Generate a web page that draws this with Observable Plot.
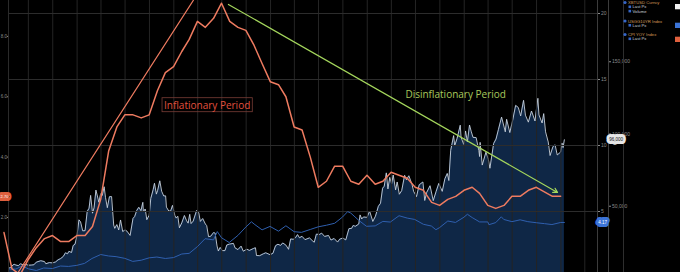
<!DOCTYPE html>
<html><head><meta charset="utf-8">
<script src="https://cdn.jsdelivr.net/npm/d3@7"></script>
<script src="https://cdn.jsdelivr.net/npm/@observablehq/plot@0.6"></script>
<style>
html,body{margin:0;padding:0;background:#000;}
#chart{position:relative;width:680px;height:272px;background:#000;overflow:hidden;}
#chart svg{position:absolute;left:0;top:0;}
</style></head>
<body><div id="chart"></div>
<script>
// ---------- data ----------
const btcDates = ["2020-04-17","2020-04-24","2020-04-30","2020-05-08","2020-05-15","2020-05-25","2020-06-01","2020-06-12","2020-06-22","2020-07-01","2020-07-12","2020-07-22","2020-07-31","2020-08-10","2020-08-17","2020-08-31","2020-09-05","2020-09-18","2020-09-30","2020-10-12","2020-10-21","2020-10-31","2020-11-10","2020-11-18","2020-11-26","2020-12-01","2020-12-11","2020-12-17","2020-12-24","2020-12-31",
"2021-01-08","2021-01-14","2021-01-22","2021-01-31","2021-02-08","2021-02-15","2021-02-21","2021-02-28","2021-03-06","2021-03-13","2021-03-24","2021-03-31","2021-04-06","2021-04-13","2021-04-18","2021-04-25","2021-05-03","2021-05-11","2021-05-19","2021-05-23","2021-05-31","2021-06-07","2021-06-14","2021-06-22","2021-07-01","2021-07-08","2021-07-20","2021-07-31","2021-08-06","2021-08-14","2021-08-22","2021-08-30","2021-09-06","2021-09-08","2021-09-15","2021-09-21","2021-09-30","2021-10-06","2021-10-15","2021-10-20","2021-10-27","2021-11-01","2021-11-09","2021-11-16","2021-11-24","2021-12-01","2021-12-04","2021-12-13","2021-12-20","2021-12-27",
"2022-01-05","2022-01-10","2022-01-16","2022-01-22","2022-01-31","2022-02-10","2022-02-18","2022-02-24","2022-03-02","2022-03-07","2022-03-15","2022-03-28","2022-04-05","2022-04-11","2022-04-20","2022-04-30","2022-05-05","2022-05-12","2022-05-20","2022-05-31","2022-06-06","2022-06-13","2022-06-18","2022-06-25","2022-07-03","2022-07-13","2022-07-20","2022-07-30","2022-08-14","2022-08-20","2022-08-31","2022-09-12","2022-09-20","2022-10-04","2022-10-13","2022-10-29","2022-11-05","2022-11-09","2022-11-21","2022-12-05","2022-12-14","2022-12-30",
"2023-01-10","2023-01-20","2023-01-29","2023-02-08","2023-02-16","2023-02-28","2023-03-10","2023-03-18","2023-03-28","2023-04-05","2023-04-13","2023-04-20","2023-04-30","2023-05-11","2023-05-28","2023-06-10","2023-06-15","2023-06-23","2023-07-05","2023-07-13","2023-07-24","2023-08-08","2023-08-17","2023-08-29","2023-09-11","2023-09-19","2023-10-01","2023-10-12","2023-10-24","2023-11-03","2023-11-09","2023-11-17","2023-11-30","2023-12-05","2023-12-11","2023-12-18","2023-12-31",
"2024-01-10","2024-01-22","2024-02-01","2024-02-12","2024-02-20","2024-02-28","2024-03-05","2024-03-13","2024-03-19","2024-03-26","2024-04-02","2024-04-08","2024-04-17","2024-04-23","2024-05-01","2024-05-10","2024-05-21","2024-05-28","2024-06-06","2024-06-18","2024-06-24","2024-07-05","2024-07-15","2024-07-29","2024-08-05","2024-08-12","2024-08-25","2024-09-06","2024-09-17","2024-09-27","2024-10-10","2024-10-20","2024-10-29","2024-11-04","2024-11-11","2024-11-22","2024-11-26","2024-12-05","2024-12-17","2024-12-20","2024-12-30",
"2025-01-06","2025-01-13","2025-01-21","2025-01-27","2025-02-03","2025-02-15","2025-02-25","2025-02-28","2025-03-02","2025-03-10","2025-03-24","2025-04-02","2025-04-08","2025-04-22","2025-05-01","2025-05-10","2025-05-22","2025-06-05","2025-06-10","2025-06-22","2025-07-03","2025-07-14","2025-07-24","2025-08-02","2025-08-13","2025-08-20","2025-08-31","2025-09-12","2025-09-25","2025-10-06","2025-10-10","2025-10-22","2025-10-28","2025-11-04","2025-11-14","2025-11-21","2025-12-02","2025-12-10","2025-12-18","2025-12-31","2026-01-05","2026-01-09","2026-01-14"];
const btcPrices = [7100,7500,8600,9900,9300,8900,10200,9400,9700,9200,9300,9500,11300,11900,12300,11700,10200,11000,10800,11500,12900,13800,15300,17800,17100,18800,18000,22800,23700,29000,
40600,39200,33000,33100,46400,48600,57500,45200,48900,61200,52800,58800,57500,63500,56200,49000,56600,56700,37000,34700,37300,33600,40500,32500,33600,32800,29800,41600,42800,47100,49300,46900,52700,46100,48100,40700,43800,55400,61500,65900,58400,61000,67600,60400,57100,57200,49400,46700,46700,50600,
43500,41800,43100,35100,38500,43600,40000,38300,44400,38000,39700,47100,45500,39500,41500,37700,36600,29000,29200,31800,31400,22500,19000,21500,19300,19300,23200,23800,24300,21200,20000,22400,18900,20300,19400,20800,21300,15900,15800,17100,17800,16500,
17400,22700,23700,22900,24600,23100,20200,27400,27100,28200,30400,28200,29200,26900,28100,25800,25100,30700,30500,31400,29100,29800,26600,27700,25200,27200,28000,26700,34500,34700,36700,36100,37700,44000,41200,42600,42300,
46600,39500,43100,50000,52000,62500,63800,73100,62000,70000,65500,71600,61300,66800,58300,60800,71400,68300,71100,65100,60300,56700,64800,66800,54000,59400,64200,53900,60300,65800,60300,69000,72700,67800,88700,98900,91900,96900,106100,97800,92800,
102100,94500,106200,102000,97700,97500,88700,84400,94200,78500,87400,82500,76300,93400,96500,103000,111700,101500,110200,101000,109600,119800,118400,112500,123300,113000,108200,115900,109000,124700,113200,107600,114100,101500,94500,85100,91300,92500,85500,87500,93800,90600,96000];

const ust10Dates = ["2020-04-17","2020-05-15","2020-06-08","2020-06-30","2020-07-31","2020-08-28","2020-09-30","2020-10-30","2020-11-30","2020-12-31","2021-01-29","2021-02-26","2021-03-31","2021-04-30","2021-05-28","2021-06-30","2021-07-30","2021-08-31","2021-09-30","2021-10-29","2021-11-30","2021-12-31","2022-01-31","2022-02-28","2022-03-31","2022-04-29","2022-05-31","2022-06-14","2022-06-30","2022-07-29","2022-08-31","2022-09-30","2022-10-21","2022-10-31","2022-11-30","2022-12-30","2023-01-31","2023-02-28","2023-03-31","2023-04-28","2023-05-31","2023-06-30","2023-07-31","2023-08-31","2023-09-29","2023-10-19","2023-10-31","2023-11-30","2023-12-29","2024-01-31","2024-02-29","2024-03-28","2024-04-30","2024-05-31","2024-06-28","2024-07-31","2024-08-30","2024-09-16","2024-09-30","2024-10-31","2024-11-29","2024-12-31","2025-01-13","2025-01-31","2025-02-28","2025-03-31","2025-04-04","2025-04-30","2025-05-21","2025-05-30","2025-06-30","2025-07-31","2025-08-29","2025-09-30","2025-10-31","2025-11-28","2025-12-31","2026-01-14"];
const ust10Yields = [0.64,0.64,0.88,0.66,0.53,0.72,0.68,0.87,0.84,0.92,1.07,1.44,1.74,1.63,1.58,1.45,1.22,1.31,1.49,1.55,1.44,1.51,1.78,1.83,2.34,2.94,2.85,3.48,3.01,2.65,3.19,3.83,4.22,4.05,3.61,3.87,3.51,3.92,3.47,3.42,3.64,3.84,3.96,4.11,4.57,4.99,4.88,4.33,3.88,3.91,4.25,4.20,4.68,4.50,4.40,4.03,3.90,3.62,3.78,4.28,4.17,4.57,4.79,4.54,4.21,4.21,4.00,4.16,4.60,4.40,4.23,4.37,4.23,4.15,4.08,4.01,4.17,4.17];

const cpiMonths = ["2020-03","2020-04","2020-05","2020-06","2020-07","2020-08","2020-09","2020-10","2020-11","2020-12",
"2021-01","2021-02","2021-03","2021-04","2021-05","2021-06","2021-07","2021-08","2021-09","2021-10","2021-11","2021-12",
"2022-01","2022-02","2022-03","2022-04","2022-05","2022-06","2022-07","2022-08","2022-09","2022-10","2022-11","2022-12",
"2023-01","2023-02","2023-03","2023-04","2023-05","2023-06","2023-07","2023-08","2023-09","2023-10","2023-11","2023-12",
"2024-01","2024-02","2024-03","2024-04","2024-05","2024-06","2024-07","2024-08","2024-09","2024-10","2024-11","2024-12",
"2025-01","2025-02","2025-03","2025-04","2025-05","2025-06","2025-07","2025-08","2025-09","2025-11","2025-12"];
const cpiYoY = [1.5,0.3,0.1,0.6,1.0,1.3,1.4,1.2,1.2,1.4,
1.4,1.7,2.6,4.2,5.0,5.4,5.4,5.3,5.4,6.2,6.8,7.0,
7.5,7.9,8.5,8.3,8.6,9.1,8.5,8.3,8.2,7.7,7.1,6.5,
6.4,6.0,5.0,4.9,4.0,3.0,3.2,3.7,3.7,3.2,3.1,3.4,
3.1,3.2,3.5,3.4,3.3,3.0,2.9,2.5,2.4,2.6,2.7,2.9,
3.0,2.8,2.4,2.3,2.4,2.7,2.7,2.9,3.0,2.7,2.7];

const rateTicks = [5, 10, 15, 20];
const btcTicks = [50000, 100000, 150000];
const cpiTicks = [2, 4, 6, 8];

// hand-drawn annotations (in CPI-axis units)
const trendDates = ["2020-05-25", "2022-03-16"];
const trendValues = [0.2, 9.2];
const arrowDates = ["2022-07-26", "2025-12-19"];
const arrowValues = [9.06, 2.83];
const noteTexts = ["Inflationary Period", "Disinflationary Period"];
const noteDates = ["2021-11-25", "2024-05-24"];
const noteValues = [5.71, 6.07];

const legendSeries = ["XBTUSD Curncy", "USGG10YR Index", "CPI YOY Index"];
const legendFields = [["Last Px", "Volume"], ["Last Px"], ["Last Px"]];

// ---------- build ----------
const P = d3.utcParse("%Y-%m-%d");
const btc = btcDates.map((d, i) => ({date: P(d), price: btcPrices[i]}));
const ust = ust10Dates.map((d, i) => ({date: P(d), yld: ust10Yields[i]}));
const cpi = cpiMonths.map((m, i) => ({date: d3.utcDay.offset(d3.utcMonth.offset(d3.utcParse("%Y-%m")(m), 1), -1), v: cpiYoY[i]}));
const trend = trendDates.map((d, i) => ({date: P(d), v: trendValues[i]}));
const arrow = [{d1: P(arrowDates[0]), v1: arrowValues[0], d2: P(arrowDates[1]), v2: arrowValues[1]}];
const notes = noteTexts.map((t, i) => ({text: t, date: P(noteDates[i]), v: noteValues[i]}));

const W = 680, H = 272;
const xDomain = [P("2020-04-17"), P("2026-05-19")];
const quarters = d3.utcMonth.every(3).range(xDomain[0], xDomain[1]);
const AX = "#8a8a8a";
const FONT = "'Liberation Sans', Arial, sans-serif";

function base(y, marks) {
  return {
    width: W, height: H, marginLeft: 8, marginRight: 83, marginTop: 0, marginBottom: 0,
    x: {type: "utc", domain: xDomain, axis: null},
    y: {...y, axis: null, label: null},
    style: {background: "transparent", color: AX, fontFamily: FONT, fontSize: "5px", overflow: "visible"},
    marks
  };
}

const chart = document.getElementById("chart");

// Layer 1: Bitcoin price (area) with its axis
const pBtc = Plot.plot(base({domain: [4152, 192388]}, [
  Plot.areaY(btc, {x: "date", y: "price", fill: "#0f2746"}),
  Plot.lineY(btc, {x: "date", y: "price", stroke: "#c8d2df", strokeWidth: 0.9}),
  Plot.axisY(btcTicks, {anchor: "right", dx: 11, tickSize: 2, tickPadding: 1.5, tickFormat: d3.format(","), color: AX, label: null}),
  Plot.frame({anchor: "right", dx: 11, stroke: "#3c3c3c"}),
  Plot.frame({anchor: "right", dx: 26, stroke: "#2e2e2e"}),
  Plot.text([btc[btc.length - 1]], {y: "price", frameAnchor: "right", dx: 18.5, textAnchor: "middle",
    text: d => d3.format(",")(d.price),
    fill: "#111", stroke: "#e6e6e6", strokeWidth: 6, paintOrder: "stroke", fontSize: 4.5})
]));
chart.appendChild(pBtc);

// Layer 2: US 10Y yield with grid and axis
const pUst = Plot.plot(base({domain: [0.379, 20.985]}, [
  Plot.gridX(quarters, {stroke: "#242424", strokeOpacity: 1}),
  Plot.gridY(rateTicks, {stroke: "#2c2c2c", strokeOpacity: 1}),
  Plot.lineY(ust, {x: "date", y: "yld", stroke: "#2f5fae", strokeWidth: 1}),
  Plot.axisY(rateTicks, {anchor: "right", tickSize: 2, tickPadding: 1.5, color: AX, label: null}),
  Plot.frame({anchor: "right", stroke: "#3c3c3c"}),
  Plot.frame({anchor: "left", stroke: "#2a2a2a"}),
  Plot.text([ust[ust.length - 1]], {y: "yld", frameAnchor: "right", dx: 5, textAnchor: "middle",
    text: d => d3.format(".2f")(d.yld),
    fill: "#fff", stroke: "#3b73d6", strokeWidth: 6, paintOrder: "stroke", fontSize: 4.5})
]));
chart.appendChild(pUst);

// Layer 3: CPI YoY with annotations
const pCpi = Plot.plot(base({domain: [0.176, 9.19]}, [
  Plot.line(trend, {x: "date", y: "v", stroke: "#ee7b60", strokeWidth: 1.2}),
  Plot.lineY(cpi, {x: "date", y: "v", stroke: "#ee7b60", strokeWidth: 1.5}),
  Plot.arrow(arrow, {x1: "d1", y1: "v1", x2: "d2", y2: "v2", stroke: "#a4d65c", strokeWidth: 1.2, headLength: 6}),
  Plot.text(notes.slice(0, 1), {x: "date", y: "v", text: "text", textAnchor: "start", fill: "#e2503e",
    fontSize: 10, fontFamily: "'Open Sans', sans-serif"}),
  Plot.text(notes.slice(1), {x: "date", y: "v", text: "text", textAnchor: "start", fill: "#a8c85c",
    fontSize: 10, fontFamily: "'Open Sans', sans-serif"}),
  Plot.axisY(cpiTicks, {anchor: "left", tickSize: 1, tickPadding: 0.5, tickFormat: d3.format(".1f"), color: AX, label: null, fontSize: 4.5}),
  Plot.text([cpi[cpi.length - 1]], {y: "v", frameAnchor: "left", dx: -4, textAnchor: "middle",
    text: d => d3.format(".2f")(d.v),
    fill: "#fff", stroke: "#e0603e", strokeWidth: 6, paintOrder: "stroke", fontSize: 4})
]));
chart.appendChild(pCpi);

// box around the "Inflationary Period" note (same transform as its text)
d3.select(pCpi).selectAll("text").filter(function () { return this.textContent === noteTexts[0]; }).each(function () {
  const b = this.getBBox();
  d3.select(this.parentNode).insert("rect", () => this)
    .attr("transform", this.getAttribute("transform"))
    .attr("x", b.x - 2).attr("y", b.y).attr("width", b.width + 4).attr("height", b.height)
    .attr("fill", "none").attr("stroke", "#7a3d36").attr("stroke-width", 0.8);
});

// Legend panel (top right)
const leg = d3.select(chart).append("svg").attr("width", W).attr("height", H)
  .style("font-family", FONT).style("pointer-events", "none");
const swatch = ["#f2f2f2", "#3b73d6", "#e0603e"];
const headY = [2.5, 21, 34.5];
legendSeries.forEach((s, i) => {
  const y0 = headY[i];
  leg.append("circle").attr("cx", 625).attr("cy", y0).attr("r", 1.6).attr("fill", "#3566c8");
  leg.append("text").attr("x", 628).attr("y", y0 + 1.5).attr("font-size", 4.2).attr("fill", "#d79a57").text(s);
  legendFields[i].forEach((f, j) => {
    const yy = y0 + 4.3 * (j + 1);
    leg.append("rect").attr("x", 628.5).attr("y", yy - 1.3).attr("width", 2.6).attr("height", 2.6).attr("fill", "#3566c8");
    leg.append("text").attr("x", 632.5).attr("y", yy + 1.4).attr("font-size", 4.2).attr("fill", "#c9ced6").text(f);
  });
  leg.append("rect").attr("x", 675).attr("y", [4, 22.7, 36.7][i]).attr("width", 5).attr("height", 5.3).attr("fill", swatch[i]);
});
</script></body></html>
